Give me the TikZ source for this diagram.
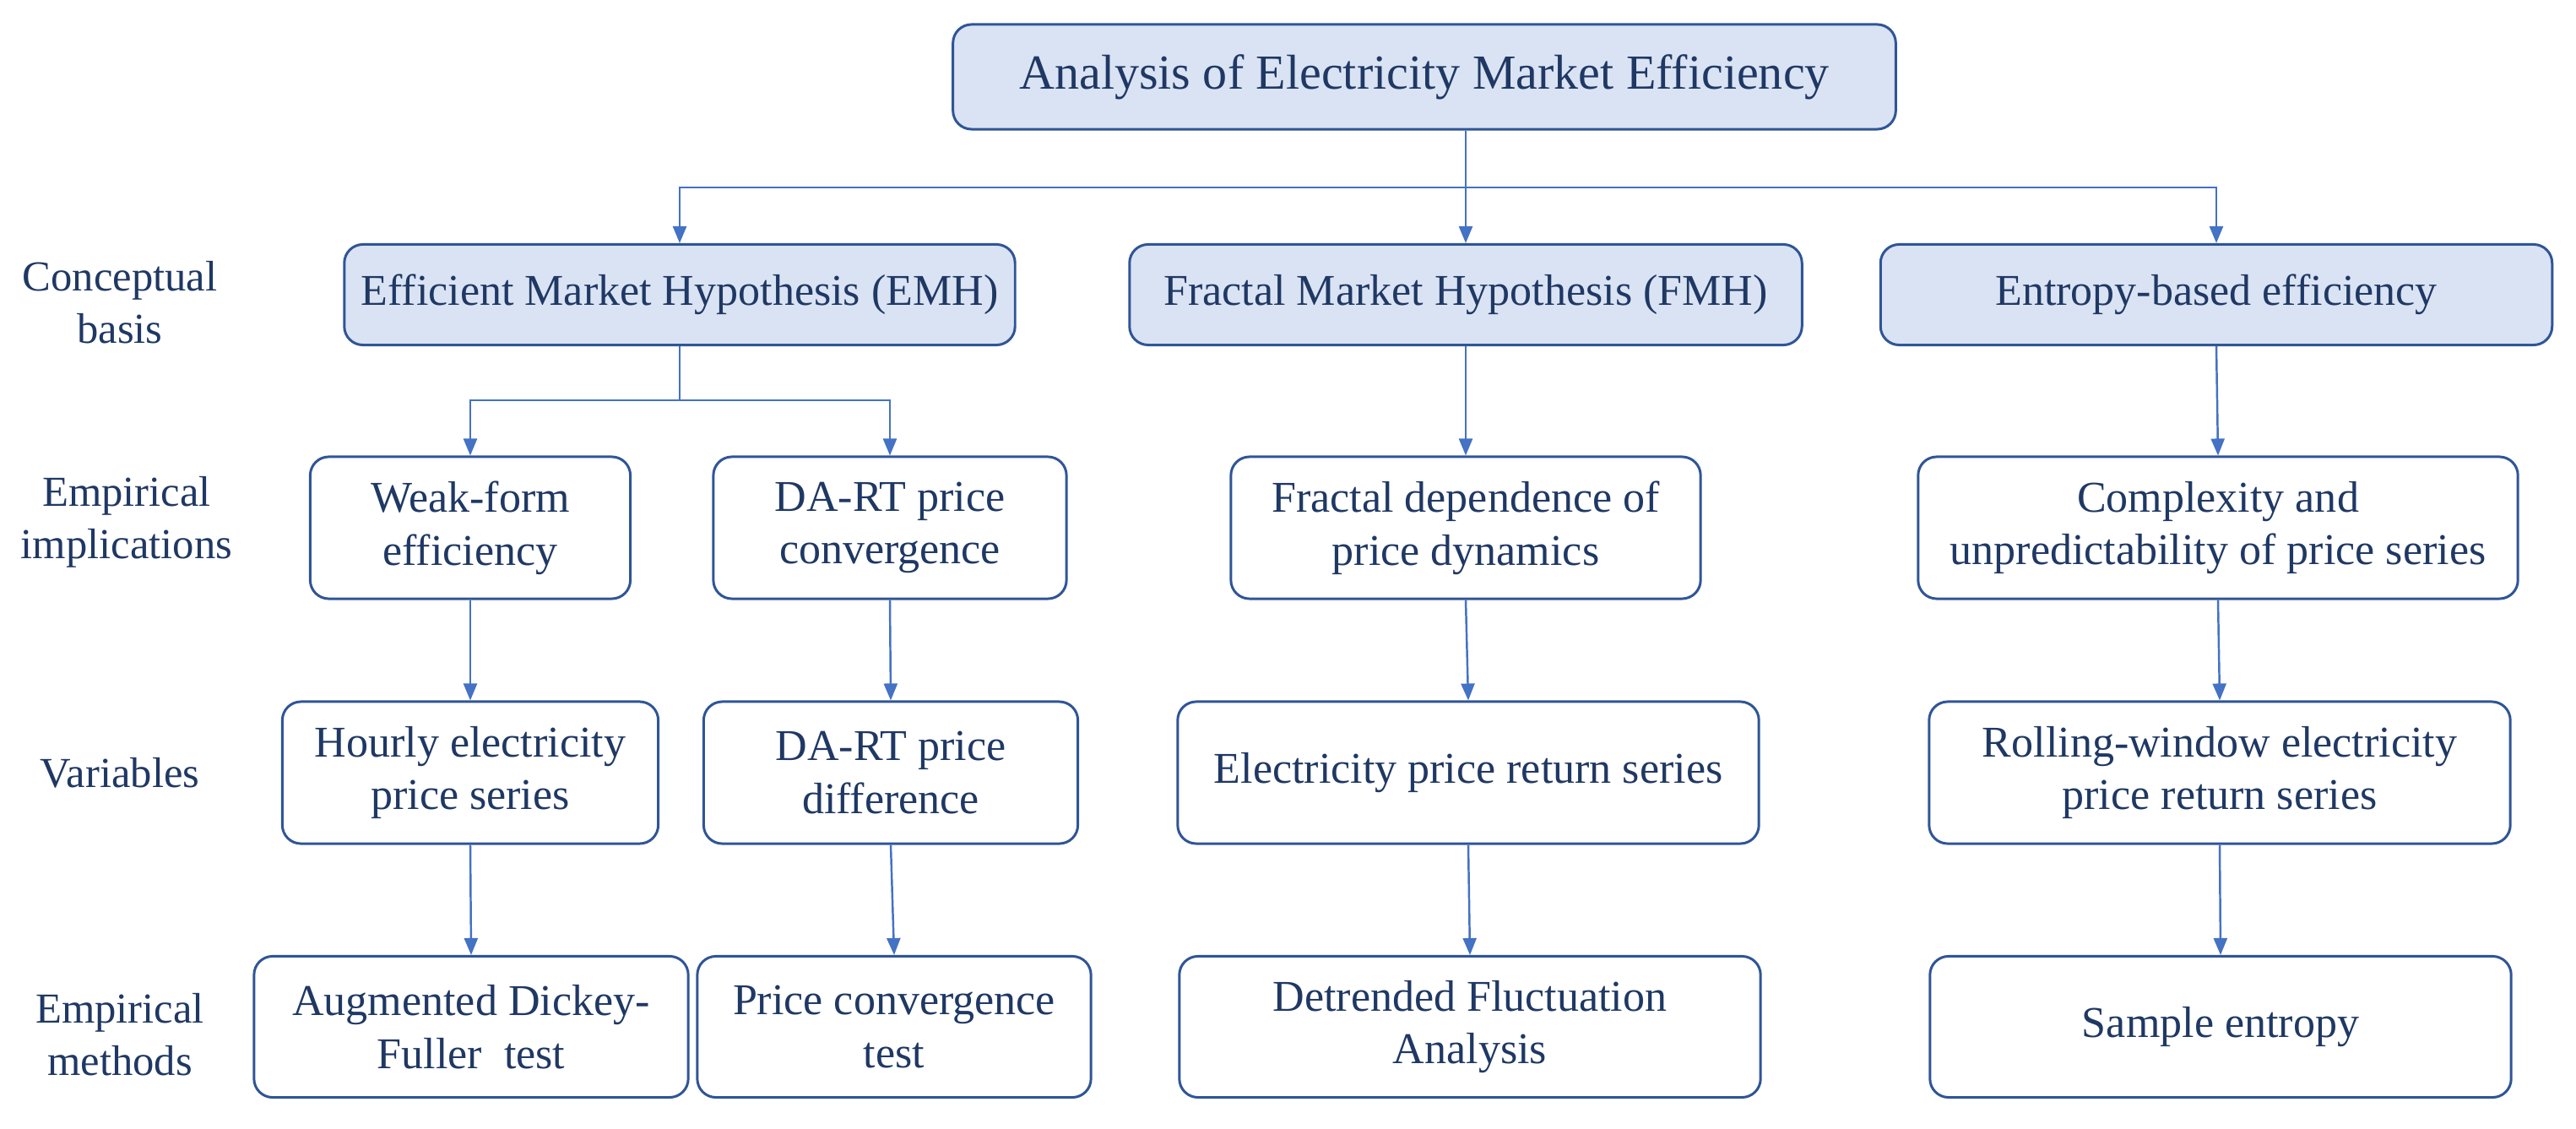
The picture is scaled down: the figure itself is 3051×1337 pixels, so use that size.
\documentclass[tikz,border=0pt]{standalone}
\usepackage{fontspec}
\setmainfont{Liberation Serif}
\usetikzlibrary{arrows.meta}
\definecolor{boxline}{RGB}{47,85,151}
\definecolor{linkblue}{RGB}{68,114,196}
\definecolor{headfill}{RGB}{218,227,243}
\definecolor{inkblue}{RGB}{31,56,100}
\tikzset{
    box/.style={
        draw=boxline, line width=0.85pt, rounded corners=0.22cm,
        inner sep=0pt, align=center, text=inkblue,
        font=\fontsize{14.8}{17.8}\selectfont
    },
    head box/.style={box, fill=headfill, minimum height=1.19cm},
    row label/.style={align=center, text=inkblue, font=\fontsize{14.4}{17.6}\selectfont},
    link/.style={draw=linkblue, line width=0.7pt, -{Triangle[length=0.2cm,width=0.16cm]}}
}

\begin{document}
\begin{tikzpicture}[x=0.01cm, y=-0.01cm]
    \useasboundingbox (0,0) rectangle (3051,1337);
    \node[head box, minimum width=11.16cm, minimum height=1.24cm,
        font=\fontsize{16.5}{19.8}\selectfont] (title) at (1687,91)
        {Analysis of Electricity Market Efficiency};
    % Conceptual basis
    \node[head box, minimum width=7.94cm] (emh) at (805,349) {Efficient Market Hypothesis (EMH)};
    \node[head box, minimum width=7.96cm] (fmh) at (1736,349) {Fractal Market Hypothesis (FMH)};
    \node[head box, minimum width=7.95cm] (ent) at (2625,349) {Entropy-based efficiency};
    % Empirical implications
    \node[box, minimum width=3.79cm, minimum height=1.68cm] (weak) at (557,625) {Weak-form\\efficiency};
    \node[box, minimum width=4.18cm, minimum height=1.68cm] (dart) at (1054,625) {DA-RT price\\convergence};
    \node[box, minimum width=5.56cm, minimum height=1.68cm] (fracdep) at (1736,625) {Fractal dependence of\\price dynamics};
    \node[box, minimum width=7.10cm, minimum height=1.68cm] (complex) at (2627,625) {Complexity and\\unpredictability of price series};
    % Variables
    \node[box, minimum width=4.45cm, minimum height=1.68cm] (hourly) at (557,915) {Hourly electricity\\price series};
    \node[box, minimum width=4.43cm, minimum height=1.68cm] (dadiff) at (1055,915) {DA-RT price\\difference};
    \node[box, minimum width=6.88cm, minimum height=1.68cm] (ret) at (1739,915) {Electricity price return series};
    \node[box, minimum width=6.88cm, minimum height=1.68cm] (roll) at (2629,915) {Rolling-window electricity\\price return series};
    % Empirical methods
    \node[box, minimum width=5.14cm, minimum height=1.67cm] (adf) at (558,1216) {Augmented Dickey-\\Fuller\ \ test};
    \node[box, minimum width=4.66cm, minimum height=1.67cm] (pct) at (1059,1216) {Price convergence\\test};
    \node[box, minimum width=6.88cm, minimum height=1.67cm] (dfa) at (1741,1216) {Detrended Fluctuation\\Analysis};
    \node[box, minimum width=6.88cm, minimum height=1.67cm] (sampen) at (2630,1216) {Sample entropy};
    % Row labels
    \node[row label] (lblbasis) at (142,358) {Conceptual\\basis};
    \node[row label] (lblimpl) at (150,618) {Empirical\\implications};
    \node[row label] (lblvar) at (142,915) {Variables};
    \node[row label] (lblmeth) at (142,1225) {Empirical\\methods};
    % Connectors
    \coordinate (bus) at (1736,222);
    \coordinate (split) at (805,474);
    \draw[link] (title.south -| fmh.north) -- (fmh.north);
    \draw[link] (bus) -| (emh.north);
    \draw[link] (bus) -| (ent.north);
    \draw[link] (emh.south) -- (split) -| (weak.north);
    \draw[link] (split) -| (dart.north);
    \draw[link] (fmh.south) -- (fracdep.north);
    \draw[link] (ent.south) -- (complex.north);
    \draw[link] (weak.south) -- (hourly.north);
    \draw[link] (hourly.south) -- (adf.north);
    \draw[link] (dart.south) -- (dadiff.north);
    \draw[link] (dadiff.south) -- (pct.north);
    \draw[link] (fracdep.south) -- (ret.north);
    \draw[link] (ret.south) -- (dfa.north);
    \draw[link] (complex.south) -- (roll.north);
    \draw[link] (roll.south) -- (sampen.north);
\end{tikzpicture}
\end{document}
